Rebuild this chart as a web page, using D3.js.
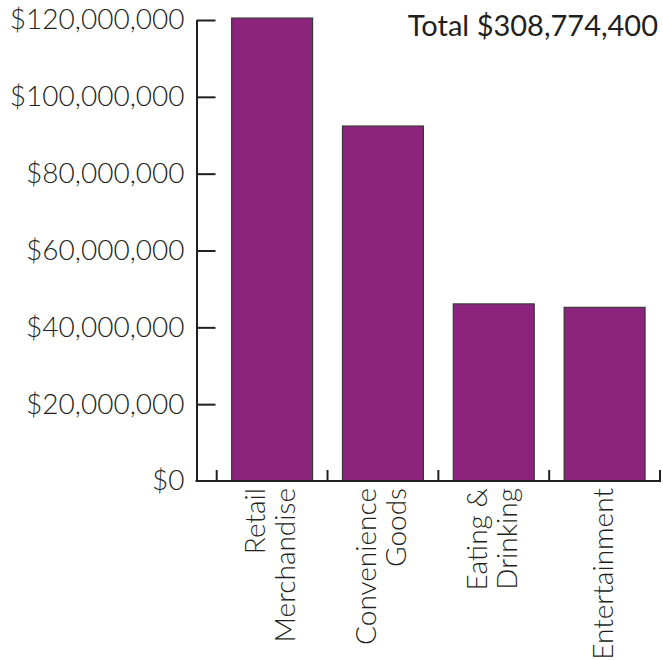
<!DOCTYPE html>
<html>
<head>
<meta charset="utf-8">
<script src="https://cdn.jsdelivr.net/npm/d3@7"></script>
<style>
  html, body { margin: 0; padding: 0; background: #fff; }
  svg { display: block; }
  text { font-family: Lato, "Open Sans", sans-serif; fill: #231f20; }
</style>
</head>
<body>
<svg id="chart" width="663" height="660"></svg>
<script>
// Sales by category
const categories = [
  ["Retail", "Merchandise"],
  ["Convenience", "Goods"],
  ["Eating &", "Drinking"],
  ["Entertainment"]
];
const categoryKeys = ["Retail Merchandise", "Convenience Goods", "Eating & Drinking", "Entertainment"];
const sales = [120500000, 92400000, 46100000, 45200000];
const yTicks = [0, 20000000, 40000000, 60000000, 80000000, 100000000, 120000000];
const totalLabel = "Total $308,774,400";

const svg = d3.select("#chart");
const ink = "#231f20";
const barFill = "#8c247e";

const plotLeft = 196.5, plotRight = 660, plotTop = 20, plotBottom = 481;

const y = d3.scaleLinear().domain([0, 120000000]).range([plotBottom, plotTop]);
const x = d3.scaleBand()
  .domain(categoryKeys)
  .range([216.7, plotRight])
  .paddingInner(0.27)
  .paddingOuter(0.135);

// Bars
svg.append("g").selectAll("rect")
  .data(sales)
  .join("rect")
  .attr("x", (d, i) => x(categoryKeys[i]))
  .attr("width", x.bandwidth())
  .attr("y", d => y(d))
  .attr("height", d => y(0) - y(d))
  .attr("fill", barFill)
  .attr("stroke", "#3a3536")
  .attr("stroke-width", 1.2);

// Y axis with ticks pointing into the plot
const fmt = d => "$" + d3.format(",")(d);
const yAxis = svg.append("g")
  .attr("transform", `translate(${plotLeft},0)`)
  .call(d3.axisLeft(y).tickValues(yTicks).tickFormat(fmt)
    .tickSizeInner(-19).tickSizeOuter(0).tickPadding(12));
yAxis.select(".domain").attr("stroke", ink).attr("stroke-width", 2);
yAxis.selectAll(".tick line").attr("stroke", ink).attr("stroke-width", 2);
yAxis.selectAll(".tick text")
  .style("font-size", "28px")
  .style("font-weight", 300)
  .attr("fill", ink);
yAxis.select(".tick:first-of-type line").remove();

// X axis baseline with upward ticks at band boundaries
const xg = svg.append("g");
xg.append("line")
  .attr("x1", plotLeft - 1).attr("x2", plotRight + 1)
  .attr("y1", plotBottom).attr("y2", plotBottom)
  .attr("stroke", ink).attr("stroke-width", 2);
const boundaries = categoryKeys.map(k => x(k) - x.step() * x.paddingInner() / 2).concat([plotRight]);
xg.selectAll("line.tick")
  .data(boundaries)
  .join("line")
  .attr("class", "tick")
  .attr("x1", d => d).attr("x2", d => d)
  .attr("y1", plotBottom).attr("y2", plotBottom - 11)
  .attr("stroke", ink).attr("stroke-width", 2);

// Category labels, rotated, right-aligned just under the axis
const lineGap = 30;
categories.forEach((lines, i) => {
  const cx = x(categoryKeys[i]) + x.bandwidth() / 2;
  const n = lines.length;
  lines.forEach((t, j) => {
    const off = (j - (n - 1) / 2) * lineGap;
    svg.append("text")
      .attr("transform", `translate(${cx + off + 8},${plotBottom + 7}) rotate(-90)`)
      .attr("text-anchor", "end")
      .style("font-size", "28px")
      .style("font-weight", 300)
      .text(t);
  });
});

// Total annotation
svg.append("text")
  .attr("x", 658).attr("y", 36)
  .attr("text-anchor", "end")
  .style("font-size", "29px")
  .style("font-weight", 400)
  .text(totalLabel);
</script>
</body>
</html>
